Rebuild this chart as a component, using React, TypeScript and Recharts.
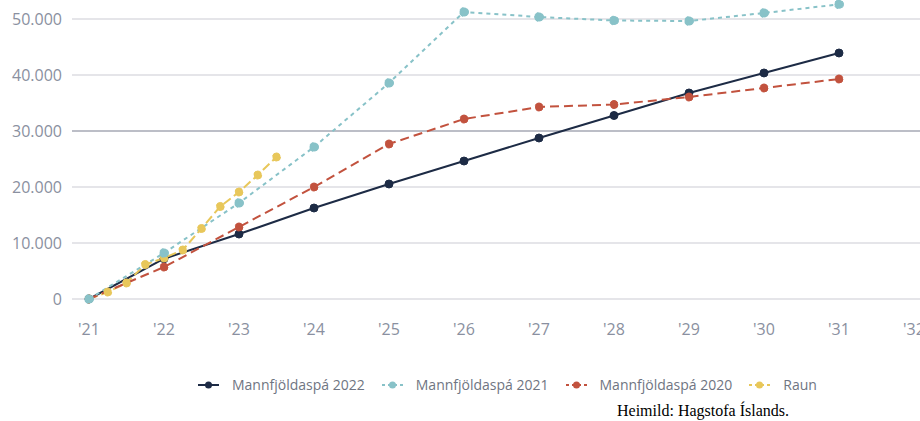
import React from 'react';
import { LineChart, Line, XAxis, YAxis, CartesianGrid, Legend, ReferenceLine } from 'recharts';

// yearly forecasts (cumulative change since 2021)
const years = [2021, 2022, 2023, 2024, 2025, 2026, 2027, 2028, 2029, 2030, 2031];
const spa2022 = [0, 7200, 11600, 16250, 20540, 24640, 28750, 32770, 36790, 40360, 43930];
const spa2021 = [0, 8210, 17140, 27140, 38570, 51250, 50360, 49730, 49640, 51070, 52620];
const spa2020 = [0, 5710, 12860, 20000, 27680, 32140, 34290, 34730, 36070, 37680, 39290];

// actual figures, quarterly
const raunQuarters = [2021, 2021.25, 2021.5, 2021.75, 2022, 2022.25, 2022.5, 2022.75, 2023, 2023.25, 2023.5];
const raun = [0, 1250, 2860, 6160, 7320, 8750, 12590, 16520, 19110, 22140, 25360];

const xTicks = [2021, 2022, 2023, 2024, 2025, 2026, 2027, 2028, 2029, 2030, 2031, 2032];
const yTicks = [0, 10000, 20000, 30000, 40000, 50000];

const toRows = (xs: number[], ys: number[]) => xs.map((x, i) => ({ x, value: ys[i] }));

const series = [
  { name: 'Mannfjöldaspá 2022', color: '#1d2b45', dash: undefined, r: 4, data: toRows(years, spa2022) },
  { name: 'Mannfjöldaspá 2021', color: '#88c2c8', dash: '4 4', r: 4.5, data: toRows(years, spa2021) },
  { name: 'Mannfjöldaspá 2020', color: '#c2523e', dash: '9 5', r: 4, data: toRows(years, spa2020) },
  { name: 'Raun', color: '#e8c75a', dash: '9 4', r: 4, data: toRows(raunQuarters, raun) },
];

// drawing order (later = on top)
const drawOrder = [0, 3, 2, 1];

const fmtThousands = (v: number) => String(v).replace(/\B(?=(\d{3})+(?!\d))/g, '.');
const fmtYear = (v: number) => "'" + String(v).slice(2);

const tickStyle = { fill: '#8a90a0', fontSize: 16 };

const LegendContent = () => (
  <div style={{ display: 'flex', alignItems: 'center', whiteSpace: 'nowrap' }}>
    {series.map((s) => (
      <div key={s.name} style={{ display: 'flex', alignItems: 'center', marginRight: 17 }}>
        <svg width={21} height={10} style={{ marginRight: 13 }}>
          <line x1={0} y1={5} x2={21} y2={5} stroke={s.color} strokeWidth={2} strokeDasharray={s.dash ? '3 3' : undefined} />
          <circle cx={10.5} cy={5} r={3.5} fill={s.color} />
        </svg>
        <span style={{ color: '#6f7582', fontSize: 14 }}>{s.name}</span>
      </div>
    ))}
  </div>
);

export default function App() {
  return (
    <div style={{ position: 'absolute', left: 0, top: 0, width: 920, height: 421, overflow: 'hidden', fontFamily: '"Open Sans", sans-serif', background: '#fff' }}>
      <div style={{ position: 'absolute', left: 0, top: -37 }}>
        <LineChart width={1000} height={480} margin={{ top: 0, right: 69, bottom: 114, left: 0 }}>
          <CartesianGrid vertical={false} stroke="#dcdde2" strokeWidth={1.5} />
          <ReferenceLine y={30000} stroke="#aeb1bb" strokeWidth={1.5} />
          <XAxis
            type="number"
            dataKey="x"
            domain={[2021, 2032]}
            ticks={xTicks}
            tickFormatter={fmtYear}
            padding={{ left: 17, right: 17 }}
            axisLine={false}
            tickLine={false}
            tick={tickStyle}
            tickMargin={19}
            allowDuplicatedCategory={false}
          />
          <YAxis
            domain={[0, 60000]}
            ticks={yTicks}
            tickFormatter={fmtThousands}
            width={72}
            axisLine={false}
            tickLine={false}
            tick={tickStyle}
            tickMargin={4}
            interval={0}
          />
          {drawOrder.map((i) => {
            const s = series[i];
            return (
              <Line
                key={s.name}
                data={s.data}
                dataKey="value"
                name={s.name}
                type="linear"
                stroke={s.color}
                strokeWidth={2}
                strokeDasharray={s.dash}
                dot={{ r: s.r, fill: s.color, stroke: s.color, strokeWidth: 1 }}
                activeDot={false}
                isAnimationActive={false}
              />
            );
          })}
          <Legend
            layout="horizontal"
            verticalAlign="middle"
            align="center"
            content={LegendContent}
            wrapperStyle={{ left: 198, top: 412, width: 'auto' }}
          />
        </LineChart>
      </div>
      <div style={{ position: 'absolute', left: 617, top: 402, fontFamily: '"Liberation Serif", "Times New Roman", serif', fontSize: 16, color: '#000' }}>
        Heimild: Hagstofa Íslands.
      </div>
    </div>
  );
}
